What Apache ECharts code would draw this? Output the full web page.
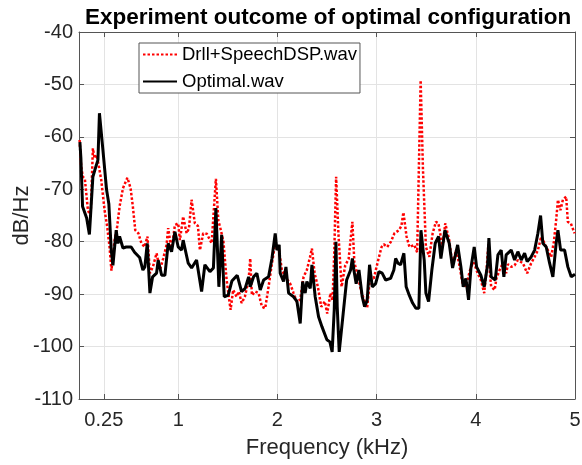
<!DOCTYPE html>
<html lang="en">
    <head>
        <meta charset="utf-8">
        <title>Experiment outcome</title>
        <style>
            html, body { margin: 0; padding: 0; background: #fff; }
            #chart { width: 582px; height: 465px; }
        </style>
    </head>
    <body>
        <div id="chart"></div>
        <script src="https://cdn.jsdelivr.net/npm/echarts@6/dist/echarts.min.js"></script>
        <script type="text/javascript">
            // 数据（频率 kHz, dB/Hz）
            var seriesNames = ['Drll+SpeechDSP.wav', 'Optimal.wav'];
            var xTickValues = [0.25, 1, 2, 3, 4, 5];

            var drllFreq = [0.006, 0.022, 0.039, 0.059, 0.090, 0.117, 0.140, 0.157, 0.180, 0.201,
                0.224, 0.258, 0.284, 0.308, 0.327, 0.359, 0.385, 0.409, 0.443, 0.463,
                0.488, 0.520, 0.543, 0.567, 0.599, 0.629, 0.661, 0.690, 0.715, 0.745,
                0.782, 0.816, 0.849, 0.883, 0.899, 0.933, 0.967, 1.000, 1.017, 1.050,
                1.085, 1.108, 1.135, 1.168, 1.199, 1.219, 1.252, 1.289, 1.337, 1.355,
                1.380, 1.405, 1.430, 1.456, 1.488, 1.528, 1.554, 1.589, 1.612, 1.639,
                1.672, 1.710, 1.726, 1.743, 1.776, 1.810, 1.844, 1.877, 1.911, 1.945,
                1.978, 2.012, 2.045, 2.079, 2.129, 2.163, 2.197, 2.230, 2.264, 2.297,
                2.328, 2.348, 2.375, 2.408, 2.442, 2.479, 2.502, 2.535, 2.556, 2.573,
                2.592, 2.615, 2.647, 2.684, 2.718, 2.756, 2.776, 2.804, 2.849, 2.905,
                2.935, 2.972, 3.016, 3.050, 3.073, 3.107, 3.144, 3.180, 3.225, 3.250,
                3.270, 3.302, 3.331, 3.356, 3.379, 3.409, 3.444, 3.467, 3.497, 3.531,
                3.565, 3.598, 3.623, 3.665, 3.692, 3.732, 3.766, 3.799, 3.830, 3.867,
                3.900, 3.951, 3.981, 4.018, 4.051, 4.085, 4.112, 4.127, 4.142, 4.155,
                4.190, 4.208, 4.240, 4.273, 4.306, 4.324, 4.357, 4.391, 4.424, 4.475,
                4.518, 4.558, 4.593, 4.626, 4.660, 4.710, 4.760, 4.787, 4.810, 4.828,
                4.853, 4.878, 4.911, 4.928, 4.958, 4.996];
            var drllDb = [-60.6, -65.7, -67.6, -68.0, -74.0, -75.2, -62.2, -64.1, -63.5, -65.7,
                -68.2, -74.0, -77.1, -81.0, -85.5, -79.7, -77.1, -73.3, -69.8, -68.9,
                -67.8, -69.8, -73.3, -77.8, -78.4, -80.3, -81.0, -79.0, -86.0, -84.8,
                -82.2, -85.4, -83.2, -80.6, -77.4, -81.6, -76.8, -76.5, -79.7, -75.2,
                -78.4, -77.5, -72.0, -76.5, -77.0, -81.6, -78.4, -78.5, -80.3, -80.0,
                -68.0, -76.0, -77.8, -80.0, -87.3, -93.0, -89.2, -90.5, -89.5, -91.7,
                -90.5, -87.3, -83.2, -90.2, -89.5, -89.8, -92.4, -92.7, -88.6, -84.1,
                -80.3, -81.0, -85.4, -86.7, -88.0, -89.8, -91.5, -91.0, -86.7, -85.4,
                -83.0, -81.3, -86.0, -88.6, -92.4, -91.4, -93.7, -89.8, -91.2, -82.2,
                -67.6, -78.4, -88.6, -84.5, -83.3, -76.2, -84.0, -86.0, -89.8, -92.6,
                -86.5, -87.0, -83.5, -81.0, -80.5, -81.0, -80.0, -78.4, -77.8, -77.0,
                -74.4, -79.0, -81.0, -80.8, -80.6, -82.0, -49.2, -66.0, -81.0, -82.9,
                -78.4, -76.2, -76.5, -81.0, -76.5, -79.7, -84.8, -81.6, -84.0, -88.0,
                -88.5, -84.8, -84.0, -86.0, -87.3, -89.8, -84.5, -80.5, -86.0, -88.6,
                -89.2, -87.0, -85.4, -84.1, -86.0, -84.3, -84.8, -84.5, -83.5, -84.1,
                -86.0, -84.1, -82.9, -81.6, -79.0, -81.0, -82.9, -80.0, -75.9, -72.0,
                -74.0, -72.0, -71.4, -76.2, -76.5, -78.4];

            var optFreq = [0.009, 0.019, 0.036, 0.077, 0.105, 0.140, 0.173, 0.191, 0.206, 0.241,
                0.278, 0.301, 0.325, 0.342, 0.375, 0.392, 0.409, 0.443, 0.476, 0.526,
                0.560, 0.611, 0.644, 0.664, 0.688, 0.715, 0.742, 0.782, 0.798, 0.833,
                0.866, 0.899, 0.933, 0.967, 1.000, 1.034, 1.050, 1.101, 1.135, 1.185,
                1.236, 1.269, 1.320, 1.355, 1.380, 1.410, 1.438, 1.464, 1.504, 1.541,
                1.595, 1.639, 1.675, 1.710, 1.726, 1.760, 1.793, 1.827, 1.861, 1.911,
                1.945, 1.962, 1.978, 1.995, 2.018, 2.028, 2.062, 2.086, 2.113, 2.163,
                2.197, 2.230, 2.254, 2.280, 2.297, 2.331, 2.348, 2.381, 2.415, 2.449,
                2.499, 2.529, 2.552, 2.573, 2.590, 2.603, 2.623, 2.663, 2.698, 2.738,
                2.756, 2.771, 2.794, 2.822, 2.855, 2.879, 2.905, 2.929, 2.956, 2.990,
                3.023, 3.056, 3.091, 3.141, 3.174, 3.192, 3.215, 3.242, 3.275, 3.298,
                3.329, 3.363, 3.396, 3.426, 3.447, 3.480, 3.497, 3.524, 3.557, 3.591,
                3.625, 3.648, 3.689, 3.732, 3.766, 3.817, 3.850, 3.873, 3.900, 3.927,
                3.951, 3.984, 4.008, 4.051, 4.085, 4.119, 4.132, 4.155, 4.196, 4.223,
                4.256, 4.283, 4.306, 4.357, 4.391, 4.424, 4.458, 4.492, 4.518, 4.558,
                4.593, 4.626, 4.653, 4.676, 4.710, 4.744, 4.777, 4.810, 4.828, 4.855,
                4.895, 4.928, 4.962, 5.000];
            var optDb = [-61.0, -64.0, -73.3, -75.5, -78.6, -67.6, -65.5, -64.4, -55.5, -62.5,
                -70.1, -72.8, -81.6, -84.5, -77.8, -80.3, -79.0, -81.2, -81.0, -81.0,
                -82.0, -83.0, -85.4, -84.8, -80.3, -89.8, -86.7, -86.0, -83.5, -86.4,
                -86.4, -80.3, -81.9, -78.1, -81.0, -81.6, -79.7, -84.1, -85.0, -83.5,
                -89.5, -84.4, -85.7, -85.0, -73.6, -88.6, -78.7, -90.5, -90.2, -87.5,
                -86.4, -89.5, -88.9, -86.7, -88.6, -86.7, -86.0, -89.2, -87.3, -86.7,
                -83.2, -82.9, -78.4, -81.6, -80.6, -86.0, -87.6, -84.8, -89.8, -90.5,
                -91.4, -95.6, -87.6, -89.8, -87.6, -88.9, -84.4, -90.5, -94.3, -96.2,
                -98.7, -99.1, -101.0, -93.0, -80.0, -92.4, -101.0, -93.7, -87.3, -85.4,
                -83.2, -85.4, -88.0, -85.4, -90.5, -92.4, -91.2, -84.4, -88.6, -88.0,
                -85.7, -86.0, -87.3, -87.0, -85.4, -83.2, -84.1, -84.4, -82.2, -88.6,
                -90.2, -91.7, -92.7, -92.7, -77.8, -83.5, -89.8, -91.4, -85.4, -80.3,
                -79.0, -83.2, -77.8, -80.3, -85.0, -80.6, -84.8, -88.6, -87.0, -91.1,
                -85.0, -81.0, -84.8, -86.4, -88.6, -84.4, -79.3, -86.7, -87.3, -82.5,
                -81.6, -86.7, -82.5, -81.6, -83.5, -81.9, -83.5, -82.2, -83.8, -82.9,
                -81.6, -78.4, -75.0, -80.3, -81.0, -84.1, -86.7, -80.3, -77.8, -81.6,
                -81.6, -84.8, -86.7, -86.2];

            function toPairs(xs, ys) {
                var out = [];
                for (var i = 0; i < xs.length; i++) {
                    out.push([xs[i], ys[i]]);
                }
                return out;
            }

            var fontName = "'Liberation Sans', Arial, sans-serif";
            var axisColor = '#262626';
            var gridColor = '#e3e3e3';

            var myChart = echarts.init(document.getElementById('chart'));

            var option = {
                animation: false,
                title: {
                    text: 'Experiment outcome of optimal configuration',
                    left: 85,
                    top: 6,
                    padding: 0,
                    textStyle: {
                        fontFamily: fontName,
                        fontSize: 22.5,
                        fontWeight: 'bold',
                        color: '#000'
                    }
                },
                legend: {
                    orient: 'vertical',
                    left: 139,
                    top: 43,
                    padding: [2, 3, 2, 3],
                    itemGap: 8,
                    itemWidth: 34,
                    itemHeight: 14,
                    backgroundColor: '#fff',
                    borderColor: '#555',
                    borderWidth: 1,
                    borderRadius: 0,
                    itemStyle: { opacity: 0 },
                    textStyle: {
                        fontFamily: fontName,
                        fontSize: 18.5,
                        color: '#000'
                    },
                    data: seriesNames
                },
                grid: {
                    left: 79,
                    right: 7,
                    top: 32,
                    bottom: 66,
                    containLabel: false,
                    outerBoundsMode: 'none'
                },
                xAxis: [{
                    type: 'value',
                    min: 0,
                    max: 5,
                    name: 'Frequency (kHz)',
                    nameLocation: 'middle',
                    nameGap: 38,
                    nameMoveOverlap: false,
                    nameTextStyle: {
                        fontFamily: fontName,
                        fontSize: 22,
                        color: axisColor
                    },
                    axisLine: { onZero: false, lineStyle: { color: '#555', width: 1 } },
                    axisTick: { inside: true, length: 5, customValues: xTickValues, lineStyle: { color: '#555' } },
                    axisLabel: {
                        customValues: xTickValues,
                        margin: 11,
                        fontFamily: fontName,
                        fontSize: 20,
                        color: axisColor
                    },
                    splitLine: { show: true, lineStyle: { color: gridColor, width: 1 } }
                }, {
                    type: 'value',
                    position: 'top',
                    min: 0,
                    max: 5,
                    axisLine: { onZero: false, lineStyle: { color: '#555', width: 1 } },
                    axisTick: { inside: true, length: 5, customValues: xTickValues, lineStyle: { color: '#555' } },
                    axisLabel: { show: false },
                    splitLine: { show: false }
                }],
                yAxis: [{
                    type: 'value',
                    min: -110,
                    max: -40,
                    interval: 10,
                    name: 'dB/Hz',
                    nameLocation: 'middle',
                    nameGap: 46,
                    nameMoveOverlap: false,
                    nameTextStyle: {
                        fontFamily: fontName,
                        fontSize: 22,
                        color: axisColor
                    },
                    axisLine: { show: true, onZero: false, lineStyle: { color: '#555', width: 1 } },
                    axisTick: { show: true, inside: true, length: 5, lineStyle: { color: '#555' } },
                    axisLabel: {
                        margin: 6,
                        fontFamily: fontName,
                        fontSize: 20,
                        color: axisColor
                    },
                    splitLine: { show: true, lineStyle: { color: gridColor, width: 1 } }
                }, {
                    type: 'value',
                    position: 'right',
                    min: -110,
                    max: -40,
                    interval: 10,
                    axisLine: { show: true, onZero: false, lineStyle: { color: '#555', width: 1 } },
                    axisTick: { show: true, inside: true, length: 5, lineStyle: { color: '#555' } },
                    axisLabel: { show: false },
                    splitLine: { show: false }
                }],
                series: [{
                    name: seriesNames[0],
                    type: 'line',
                    symbol: 'none',
                    lineStyle: {
                        color: '#ff0000',
                        width: 2.5,
                        type: [2.5, 2]
                    },
                    itemStyle: { color: '#ff0000' },
                    data: toPairs(drllFreq, drllDb)
                }, {
                    name: seriesNames[1],
                    type: 'line',
                    symbol: 'none',
                    lineStyle: {
                        color: '#000',
                        width: 3
                    },
                    itemStyle: { color: '#000' },
                    data: toPairs(optFreq, optDb)
                }]
            };
            myChart.setOption(option);
        </script>
    </body>
</html>
